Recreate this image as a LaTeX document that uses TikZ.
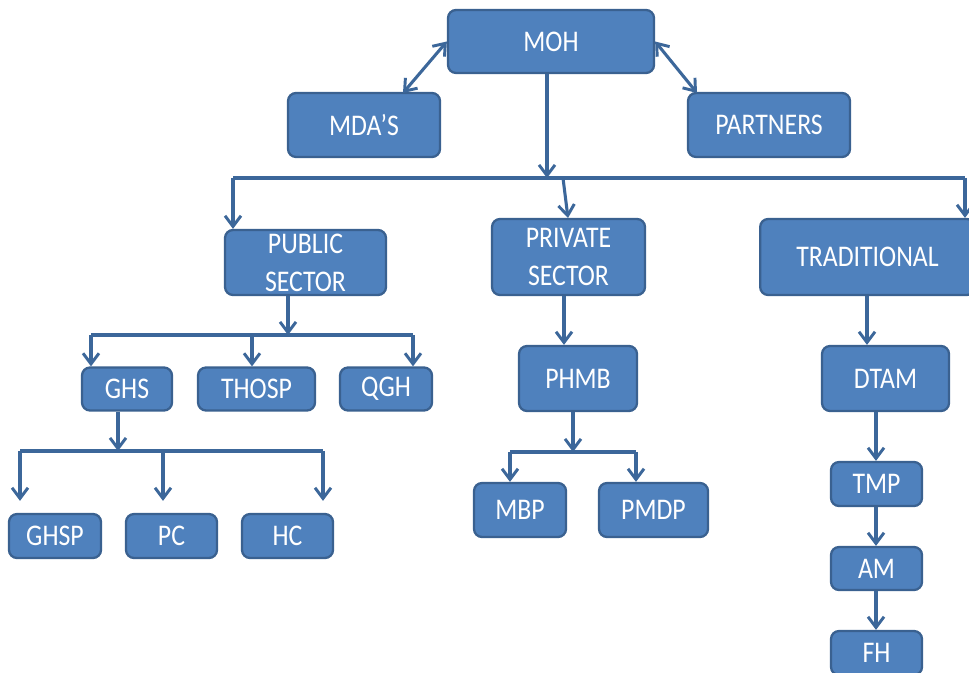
\documentclass[tikz,border=0pt]{standalone}
\usepackage{fontspec}
\setmainfont{Carlito}[FakeStretch=0.86]
\usetikzlibrary{arrows.meta,calc}
\definecolor{boxfill}{HTML}{4F81BD}
\definecolor{boxline}{HTML}{3A6190}
\definecolor{arrcol}{HTML}{3C679A}
\tikzset{
  orgbox/.style={draw=boxline, line width=1.7pt, fill=boxfill, rounded corners=6pt,
    text=white, align=center, inner sep=0pt,
    font=\fontsize{22.5}{28.5}\selectfont},
  arr/.style={draw=arrcol, line width=2.3pt, -{Straight Barb[length=8pt,width=12pt,line width=2.2pt]}},
  darr/.style={draw=arrcol, line width=2.3pt, {Straight Barb[length=8pt,width=12pt,line width=2.2pt]}-{Straight Barb[length=8pt,width=12pt,line width=2.2pt]}},
  busline/.style={draw=arrcol, line width=2.3pt},
}
\begin{document}
\begin{tikzpicture}[x=0.75pt,y=-0.75pt]
\clip (0,0) rectangle (969,673);
\useasboundingbox (0,0) rectangle (969,673);
\fill[white] (0,0) rectangle (969,673);
% top level
\node[orgbox, minimum width=154.5pt, minimum height=47.25pt] (moh) at (551,41.5) {MOH};
\node[orgbox, minimum width=114pt, minimum height=48pt] (mda) at (364,125) {MDA’S};
\node[orgbox, minimum width=121.5pt, minimum height=48pt] (partners) at (769,125) {PARTNERS};
% second level
\node[orgbox, minimum width=120.75pt, minimum height=48.75pt] (pub) at (305.5,262.5) {PUBLIC\\SECTOR};
\node[orgbox, minimum width=114.75pt, minimum height=57pt] (priv) at (568.5,257) {PRIVATE\\SECTOR};
\node[orgbox, minimum width=161pt, minimum height=57pt] (trad) at (867.5,257) {TRADITIONAL};
% public branch
\node[orgbox, minimum width=67.5pt, minimum height=32.25pt] (ghs) at (127,389) {GHS};
\node[orgbox, minimum width=87.75pt, minimum height=32.25pt] (thosp) at (256.5,389) {THOSP};
\node[orgbox, minimum width=69pt, minimum height=32.25pt] (qgh) at (386,389) {QGH};
\node[orgbox, minimum width=69pt, minimum height=33pt] (ghsp) at (55,536) {GHSP};
\node[orgbox, minimum width=68.25pt, minimum height=33pt] (pc) at (171.5,536) {PC};
\node[orgbox, minimum width=68.25pt, minimum height=33pt] (hc) at (287.5,536) {HC};
% private branch
\node[orgbox, minimum width=88.5pt, minimum height=48.75pt] (phmb) at (578,378.5) {PHMB};
\node[orgbox, minimum width=69pt, minimum height=40.5pt] (mbp) at (520,510) {MBP};
\node[orgbox, minimum width=81.75pt, minimum height=40.5pt] (pmdp) at (653.5,510) {PMDP};
% traditional branch
\node[orgbox, minimum width=95.25pt, minimum height=48.75pt] (dtam) at (885.5,378.5) {DTAM};
\node[orgbox, minimum width=68.25pt, minimum height=33pt] (tmp) at (876.5,484) {TMP};
\node[orgbox, minimum width=68.25pt, minimum height=32.25pt] (am) at (876.5,568.5) {AM};
\node[orgbox, minimum width=68.25pt, minimum height=33pt] (fh) at (876.5,653) {FH};

% coordinates
\coordinate (mdaend) at (403,93);
\coordinate (partend) at (697,93);
\coordinate (topbus) at (547,178);
\coordinate (busL) at (233,178);
\coordinate (busR) at (965,178);
\coordinate (busP) at (563,178);
\coordinate (privtop) at (568,218);
\coordinate (pubbus) at (288,335);
\coordinate (pubL) at (91,335);
\coordinate (pubM) at (252,335);
\coordinate (pubR) at (413,335);
\coordinate (ghsbus) at (118,451);
\coordinate (ghsL) at (20,451);
\coordinate (ghsM) at (163,451);
\coordinate (ghsR) at (323,451);
\coordinate (privx) at (564,0);
\coordinate (phmbbus) at (573,452);
\coordinate (phmbL) at (510,452);
\coordinate (phmbR) at (636,452);
\coordinate (tradx) at (867,0);
\coordinate (dtamx) at (876,0);

% MOH links
\draw[darr] (moh.west) -- (mdaend);
\draw[darr] (moh.east) -- (partend);
\draw[arr] (moh.south -| topbus) -- (topbus);
\draw[busline] (busL) -- (busR);
\draw[arr] (busL) -- (busL |- pub.north);
\draw[arr] (busR) -- (busR |- trad.north);
\draw[arr] (busP) -- (privtop);

% public
\draw[arr] (pub.south -| pubbus) -- (pubbus);
\draw[busline] (pubL) -- (pubR);
\draw[arr] (pubL) -- (pubL |- ghs.north);
\draw[arr] (pubM) -- (pubM |- thosp.north);
\draw[arr] (pubR) -- (pubR |- qgh.north);
\draw[arr] (ghs.south -| ghsbus) -- (ghsbus);
\draw[busline] (ghsL) -- (ghsR);
\draw[arr] (ghsL) -- ([yshift=9pt]ghsL |- ghsp.north);
\draw[arr] (ghsM) -- ([yshift=9pt]ghsM |- pc.north);
\draw[arr] (ghsR) -- ([yshift=9pt]ghsR |- hc.north);

% private
\draw[arr] (priv.south -| privx) -- (phmb.north -| privx);
\draw[arr] (phmb.south -| phmbbus) -- (phmbbus);
\draw[busline] (phmbL) -- (phmbR);
\draw[arr] (phmbL) -- (phmbL |- mbp.north);
\draw[arr] (phmbR) -- (phmbR |- pmdp.north);

% traditional
\draw[arr] (trad.south -| tradx) -- (dtam.north -| tradx);
\draw[arr] (dtam.south -| dtamx) -- (tmp.north -| dtamx);
\draw[arr] (tmp.south -| dtamx) -- (am.north -| dtamx);
\draw[arr] (am.south -| dtamx) -- (fh.north -| dtamx);
\end{tikzpicture}
\end{document}
